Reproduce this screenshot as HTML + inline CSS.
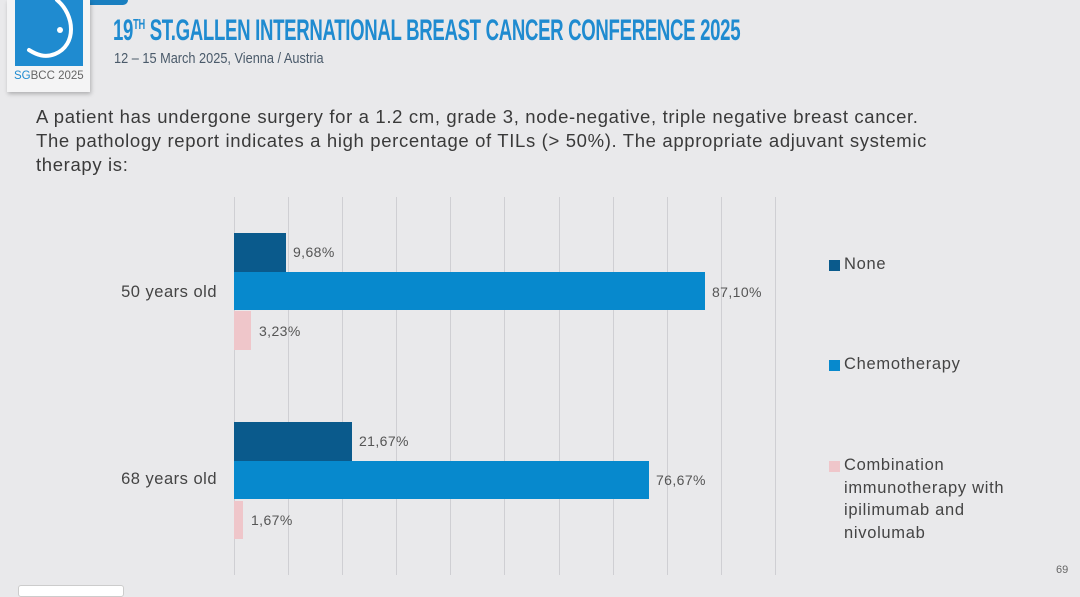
<!DOCTYPE html>
<html><head><meta charset="utf-8"><style>
body{margin:0;width:1080px;height:589px;overflow:hidden;background:#e9e9eb;font-family:"Liberation Sans",sans-serif;position:relative}
.a{position:absolute;white-space:nowrap}
.g{position:absolute;top:197px;height:378px;width:1px;background:#cfcfd3}
.lbl{position:absolute;font-size:14px;letter-spacing:.4px;color:#555;line-height:16px}
.leg{position:absolute;font-size:16.5px;letter-spacing:.7px;color:#444;line-height:22.5px}
.sq{position:absolute;width:11px;height:11px}
</style></head><body>
<div class="a" style="left:88px;top:0;width:40px;height:5px;background:#1a7fc0;border-radius:0 0 10px 0"></div>
<div class="a" style="left:7px;top:0;width:83px;height:92px;background:#f4f4f5;box-shadow:1px 2px 4px rgba(0,0,0,.25)"></div>
<div class="a" style="left:15px;top:0;width:68px;height:66px;background:#1f8bd0"></div>
<svg class="a" style="left:15px;top:0" width="68" height="66"><path d="M42 0 C60 15,62 45,40 54 C30 58,22 55,14 50" stroke="#fff" stroke-width="4" fill="none" stroke-linecap="round"/><circle cx="45" cy="30" r="3" fill="#fff"/></svg>
<div class="a" style="left:14px;top:70px;font-size:11.5px;color:#666"><b style="color:#1f8bd0;font-weight:normal">SG</b>BCC 2025</div>
<div class="a" style="left:113px;top:14px;font-size:30px;font-weight:bold;color:#1f8bd0;font-family:'Liberation Sans Narrow','Liberation Sans',sans-serif;transform:scaleX(.62);transform-origin:0 0;letter-spacing:-.5px">19<sup style="font-size:15px">TH</sup> ST.GALLEN INTERNATIONAL BREAST CANCER CONFERENCE 2025</div>
<div class="a" style="left:114px;top:50px;font-size:15px;color:#4a5a6a;font-family:'Liberation Sans Narrow','Liberation Sans',sans-serif;transform:scaleX(.85);transform-origin:0 0">12 – 15 March 2025, Vienna / Austria</div>
<div class="a" style="left:36px;top:105px;font-size:18.5px;letter-spacing:.65px;line-height:24px;color:#3a3a3a">A patient has undergone surgery for a 1.2 cm, grade 3, node-negative, triple negative breast cancer.<br>The pathology report indicates a high percentage of TILs (&gt; 50%). The appropriate adjuvant systemic<br>therapy is:</div>
<div class="g" style="left:234px"></div><div class="g" style="left:288px"></div><div class="g" style="left:342px"></div><div class="g" style="left:396px"></div><div class="g" style="left:450px"></div><div class="g" style="left:504px"></div><div class="g" style="left:559px"></div><div class="g" style="left:613px"></div><div class="g" style="left:667px"></div><div class="g" style="left:721px"></div><div class="g" style="left:775px"></div>
<div class="a" style="left:234px;top:233px;width:52px;height:39px;background:#0a5a8c"></div>
<div class="a" style="left:234px;top:272px;width:471px;height:38px;background:#0789cd"></div>
<div class="a" style="left:234px;top:311px;width:17px;height:39px;background:#efc6ca"></div>
<div class="a" style="left:234px;top:422px;width:118px;height:39px;background:#0a5a8c"></div>
<div class="a" style="left:234px;top:461px;width:415px;height:38px;background:#0789cd"></div>
<div class="a" style="left:234px;top:501px;width:9px;height:38px;background:#efc6ca"></div>
<div class="lbl" style="left:293px;top:244px">9,68%</div>
<div class="lbl" style="left:712px;top:284px">87,10%</div>
<div class="lbl" style="left:259px;top:323px">3,23%</div>
<div class="lbl" style="left:359px;top:433px">21,67%</div>
<div class="lbl" style="left:656px;top:472px">76,67%</div>
<div class="lbl" style="left:251px;top:512px">1,67%</div>
<div class="a" style="right:863px;top:283px;font-size:16.5px;letter-spacing:.5px;color:#444">50 years old</div>
<div class="a" style="right:863px;top:470px;font-size:16.5px;letter-spacing:.5px;color:#444">68 years old</div>
<div class="sq" style="left:829px;top:260px;background:#0a5a8c"></div>
<div class="leg" style="left:844px;top:253px">None</div>
<div class="sq" style="left:829px;top:360px;background:#0789cd"></div>
<div class="leg" style="left:844px;top:353px">Chemotherapy</div>
<div class="sq" style="left:829px;top:461px;background:#efc6ca"></div>
<div class="leg" style="left:844px;top:454px">Combination<br>immunotherapy with<br>ipilimumab and<br>nivolumab</div>
<div class="a" style="left:1056px;top:564px;font-size:11px;color:#666">69</div>
<div class="a" style="left:18px;top:585px;width:104px;height:10px;background:#fff;border:1px solid #ccc;border-radius:3px"></div>
</body></html>
